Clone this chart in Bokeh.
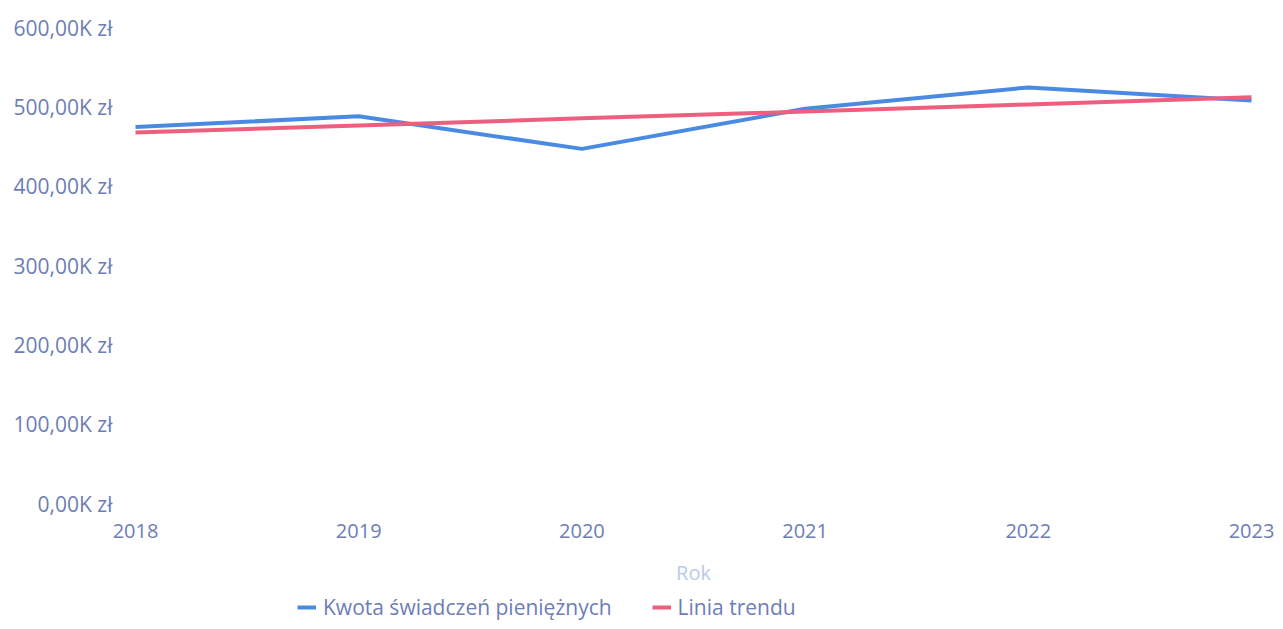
from bokeh.plotting import figure
from bokeh.models import ColumnDataSource, Legend, LegendItem, CustomJSTickFormatter, FixedTicker, Range1d, Label
from bokeh.embed import file_html
from bokeh.resources import INLINE

years = [2018, 2019, 2020, 2021, 2022, 2023]
kwota = [474500, 488000, 447000, 497500, 524500, 508000]
trend = [467500, 476500, 485500, 494000, 503000, 512000]
y_ticks = [0, 100000, 200000, 300000, 400000, 500000, 600000]
x_title = "Rok"

TEXT = "#6c7eb5"
FONT = "Open Sans"

W, H = 1275, 621
# pixel layout of the plotting area (axes are pinned inside a full-canvas frame)
X0_PX, X1_PX = 135, 1251      # where first / last year sit
Y0_PX, YTOP_PX = 503, 27      # where 0 and 600K sit
kx = (X1_PX - X0_PX) / (years[-1] - years[0])
ky = (Y0_PX - YTOP_PX) / (y_ticks[-1] - y_ticks[0])
x_start = years[0] - X0_PX / kx
x_end = years[-1] + (W - X1_PX) / kx
y_start = y_ticks[0] - (H - Y0_PX) / ky
y_end = y_ticks[-1] + YTOP_PX / ky

src = ColumnDataSource(dict(year=years, kwota=kwota, trend=trend))

p = figure(width=W, height=H, output_backend="svg", toolbar_location=None,
           x_range=Range1d(x_start, x_end), y_range=Range1d(y_start, y_end),
           min_border_left=0, min_border_right=0, min_border_top=0, min_border_bottom=0)
p.outline_line_color = None
p.grid.grid_line_color = None

r1 = p.line("year", "kwota", source=src, line_color="#4a8be2", line_width=4)
r2 = p.line("year", "trend", source=src, line_color="#ee5e7e", line_width=4)

p.xaxis.ticker = FixedTicker(ticks=years)
p.xaxis.fixed_location = 0
p.yaxis.ticker = FixedTicker(ticks=y_ticks)
p.yaxis.fixed_location = years[0]
p.yaxis.formatter = CustomJSTickFormatter(code="return (tick/1000).toFixed(2).replace('.', ',') + 'K z\u0142';")
for ax in (p.xaxis[0], p.yaxis[0]):
    ax.axis_line_color = None
    ax.major_tick_line_color = None
    ax.minor_tick_line_color = None
    ax.major_label_text_color = TEXT
    ax.major_label_text_font = FONT
    ax.major_label_text_font_size = "20px"
p.yaxis.major_label_text_font_size = "21px"
p.yaxis.major_label_standoff = 17
p.xaxis.major_label_standoff = 14

# axis title centred under the plotted years
p.add_layout(Label(x=(years[0] + years[-1]) / 2, y=H - 572, x_units="data", y_units="screen",
                   text=x_title, text_align="center", text_baseline="middle",
                   text_color="#b8cbea", text_font=FONT, text_font_size="20px"))

legend = Legend(items=[LegendItem(label="Kwota świadczeń pieniężnych", renderers=[r1]),
                       LegendItem(label="Linia trendu", renderers=[r2])],
                orientation="horizontal", location=(297, 0),
                label_text_color=TEXT, label_text_font=FONT, label_text_font_size="21px",
                glyph_width=19, glyph_height=16, label_height=16, spacing=40, padding=0, margin=0,
                label_standoff=7, background_fill_alpha=0, border_line_color=None)
p.add_layout(legend, "center")

open("out.html", "w").write(file_html(p, INLINE))
